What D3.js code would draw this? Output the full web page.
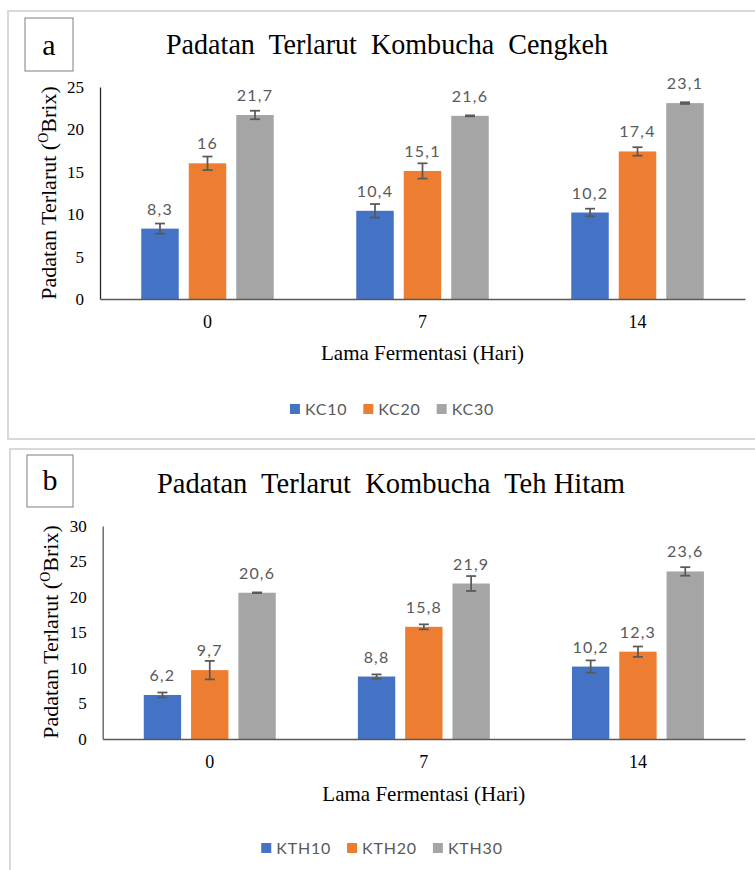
<!DOCTYPE html>
<html>
<head>
<meta charset="utf-8">
<script src="https://cdn.jsdelivr.net/npm/d3@7"></script>
<style>
  html, body { margin: 0; padding: 0; background: #fff; }
  svg { display: block; }
  .title { white-space: pre; }
</style>
</head>
<body>
<svg id="chart" width="755" height="870"></svg>
<script>
// Fermentation days (categories)
const days = ["0", "7", "14"];

// Panel a: clove kombucha (KC)
const seriesKC = ["KC10", "KC20", "KC30"];
const kc10 = [8.3, 10.4, 10.2];
const kc20 = [16, 15.1, 17.4];
const kc30 = [21.7, 21.6, 23.1];
const kc10Err = [0.6, 0.8, 0.45];
const kc20Err = [0.8, 0.9, 0.5];
const kc30Err = [0.5, 0.05, 0.1];
const ticksKC = [0, 5, 10, 15, 20, 25];

// Panel b: black tea kombucha (KTH)
const seriesKTH = ["KTH10", "KTH20", "KTH30"];
const kth10 = [6.2, 8.8, 10.2];
const kth20 = [9.7, 15.8, 12.3];
const kth30 = [20.6, 21.9, 23.6];
const kth10Err = [0.35, 0.3, 0.87];
const kth20Err = [1.3, 0.35, 0.73];
const kth30Err = [0.05, 1.05, 0.6];
const ticksKTH = [0, 5, 10, 15, 20, 25, 30];

const colors = ["#4472C4", "#ED7D31", "#A5A5A5"];
const SERIF = "'Liberation Serif', 'Times New Roman', serif";
const SANS = "Lato, Carlito, 'Open Sans', sans-serif";

const svg = d3.select("#chart");

function fmt(v) { return String(v).replace(".", ","); }

function drawPanel(cfg) {
  const g = svg.append("g");

  // outer frame
  g.append("rect")
    .attr("x", cfg.frame[0]).attr("y", cfg.frame[1])
    .attr("width", cfg.frame[2]).attr("height", cfg.frame[3])
    .attr("fill", "none").attr("stroke", "#d9d9d9").attr("stroke-width", 2);

  // panel letter box
  g.append("rect")
    .attr("x", cfg.letterBox[0]).attr("y", cfg.letterBox[1])
    .attr("width", cfg.letterBox[2]).attr("height", cfg.letterBox[3])
    .attr("fill", "#fff").attr("stroke", "#7f7f7f").attr("stroke-width", 1);
  g.append("text")
    .attr("x", cfg.letterBox[0] + cfg.letterBox[2] / 2)
    .attr("y", cfg.letterBaseline)
    .attr("text-anchor", "middle")
    .attr("font-family", SERIF).attr("font-size", 30)
    .attr("fill", "#000")
    .text(cfg.letter);

  // title
  g.append("text")
    .attr("class", "title")
    .attr("x", cfg.titleX).attr("y", cfg.titleY)
    .attr("font-family", SERIF).attr("font-size", 29)
    .attr("fill", "#000")
    .attr("textLength", cfg.titleLen).attr("lengthAdjust", "spacingAndGlyphs")
    .text(cfg.title);

  const x0 = d3.scaleBand().domain(days)
    .range([cfg.plotLeft, cfg.plotRight])
    .paddingInner(0.3837).paddingOuter(0.3837 / 2);
  const x1 = d3.scaleBand().domain(cfg.series)
    .range([0, x0.bandwidth()])
    .paddingInner(0.2105).paddingOuter(0);
  const y = d3.scaleLinear().domain([0, d3.max(cfg.ticks)])
    .range([cfg.plotBottom, cfg.plotTop]);

  // bars, error bars and value labels
  cfg.series.forEach((s, si) => {
    const vals = cfg.values[si];
    const errs = cfg.errors[si];
    const sg = g.append("g");
    sg.selectAll("rect").data(days).join("rect")
      .attr("x", d => x0(d) + x1(s))
      .attr("y", (d, i) => y(vals[i]))
      .attr("width", x1.bandwidth())
      .attr("height", (d, i) => y(0) - y(vals[i]))
      .attr("fill", colors[si]);

    const eg = sg.selectAll("g.err").data(days).join("g").attr("class", "err")
      .attr("stroke", "#595959").attr("stroke-width", 1.75);
    const cx = d => x0(d) + x1(s) + x1.bandwidth() / 2;
    eg.append("line")
      .attr("x1", cx).attr("x2", cx)
      .attr("y1", (d, i) => y(vals[i] - errs[i]))
      .attr("y2", (d, i) => y(vals[i] + errs[i]));
    [-1, 1].forEach(sign => {
      eg.append("line")
        .attr("x1", d => cx(d) - 5).attr("x2", d => cx(d) + 5)
        .attr("y1", (d, i) => y(vals[i] + sign * errs[i]))
        .attr("y2", (d, i) => y(vals[i] + sign * errs[i]));
    });

    sg.selectAll("text").data(days).join("text")
      .attr("x", cx)
      .attr("y", (d, i) => y(vals[i]) - 14)
      .attr("text-anchor", "middle")
      .attr("font-family", SANS).attr("font-size", 16)
      .attr("letter-spacing", 1.2)
      .attr("fill", "#595959")
      .text((d, i) => fmt(vals[i]));
  });

  // y axis
  const yAxis = g.append("g")
    .attr("transform", `translate(${cfg.plotLeft},0)`)
    .call(d3.axisLeft(y).tickValues(cfg.ticks).tickSize(0).tickPadding(cfg.tickPadY));
  yAxis.select(".domain").attr("stroke", cfg.yAxisColor).attr("stroke-width", 1.3);
  yAxis.selectAll("text")
    .attr("font-family", SERIF).attr("font-size", 17).attr("fill", "#000");

  // x axis
  const xAxis = g.append("g")
    .attr("transform", `translate(0,${cfg.plotBottom})`)
    .call(d3.axisBottom(x0).tickSize(0).tickPadding(16));
  xAxis.select(".domain").attr("stroke", "#595959").attr("stroke-width", 1.5);
  xAxis.selectAll("text")
    .attr("font-family", SERIF).attr("font-size", 18).attr("fill", "#000");

  // axis titles
  g.append("text")
    .attr("x", (cfg.plotLeft + cfg.plotRight) / 2)
    .attr("y", cfg.plotBottom + cfg.xTitleOffset)
    .attr("text-anchor", "middle")
    .attr("font-family", SERIF).attr("font-size", 22)
    .attr("textLength", 203).attr("lengthAdjust", "spacingAndGlyphs")
    .attr("fill", "#000")
    .text("Lama Fermentasi (Hari)");

  const yt = g.append("text")
    .attr("transform", `translate(${cfg.yTitleX},${cfg.yTitleY}) rotate(-90)`)
    .attr("text-anchor", "middle")
    .attr("font-family", SERIF).attr("font-size", 22)
    .attr("fill", "#000");
  yt.append("tspan").text("Padatan Terlarut (");
  yt.append("tspan").attr("font-size", 14).attr("dy", -8).text("O");
  yt.append("tspan").attr("dy", 8).text("Brix)");

  // legend
  const lg = g.append("g");
  let cursor = 0;
  cfg.series.forEach((s, i) => {
    const eg = lg.append("g");
    eg.append("rect").attr("x", 0).attr("y", -11).attr("width", 10).attr("height", 10)
      .attr("fill", colors[i]);
    const t = eg.append("text").attr("x", 15).attr("y", 0)
      .attr("font-family", SANS).attr("font-size", 16)
      .attr("letter-spacing", 0.8)
      .attr("fill", "#595959").text(s);
    const w = 15 + t.node().getComputedTextLength();
    eg.attr("transform", `translate(${cursor},0)`);
    cursor += w + 16;
  });
  const total = cursor - 16;
  lg.attr("transform", `translate(${cfg.legendCenter - total / 2},${cfg.plotBottom + cfg.legendOffset})`);
}

drawPanel({
  letter: "a",
  title: "Padatan  Terlarut  Kombucha  Cengkeh",
  titleX: 166, titleY: 54, titleLen: 442,
  frame: [8, 11, 780, 428],
  letterBox: [25, 18, 48, 53],
  letterBaseline: 55,
  plotLeft: 100, plotRight: 745, plotTop: 87, plotBottom: 299,
  tickPadY: 16, yAxisColor: "#262626",
  xTitleOffset: 61,
  yTitleX: 56, yTitleY: 193,
  legendCenter: 392, legendOffset: 116,
  series: seriesKC,
  values: [kc10, kc20, kc30],
  errors: [kc10Err, kc20Err, kc30Err],
  ticks: ticksKC
});

drawPanel({
  letter: "b",
  title: "Padatan  Terlarut  Kombucha  Teh Hitam",
  titleX: 157, titleY: 493, titleLen: 468,
  frame: [10, 449, 780, 460],
  letterBox: [27, 455, 46, 52],
  letterBaseline: 490,
  plotLeft: 102.7, plotRight: 745, plotTop: 526, plotBottom: 739,
  tickPadY: 16, yAxisColor: "#595959",
  xTitleOffset: 62,
  yTitleX: 58, yTitleY: 632,
  legendCenter: 382, legendOffset: 115,
  series: seriesKTH,
  values: [kth10, kth20, kth30],
  errors: [kth10Err, kth20Err, kth30Err],
  ticks: ticksKTH
});
</script>
</body>
</html>
